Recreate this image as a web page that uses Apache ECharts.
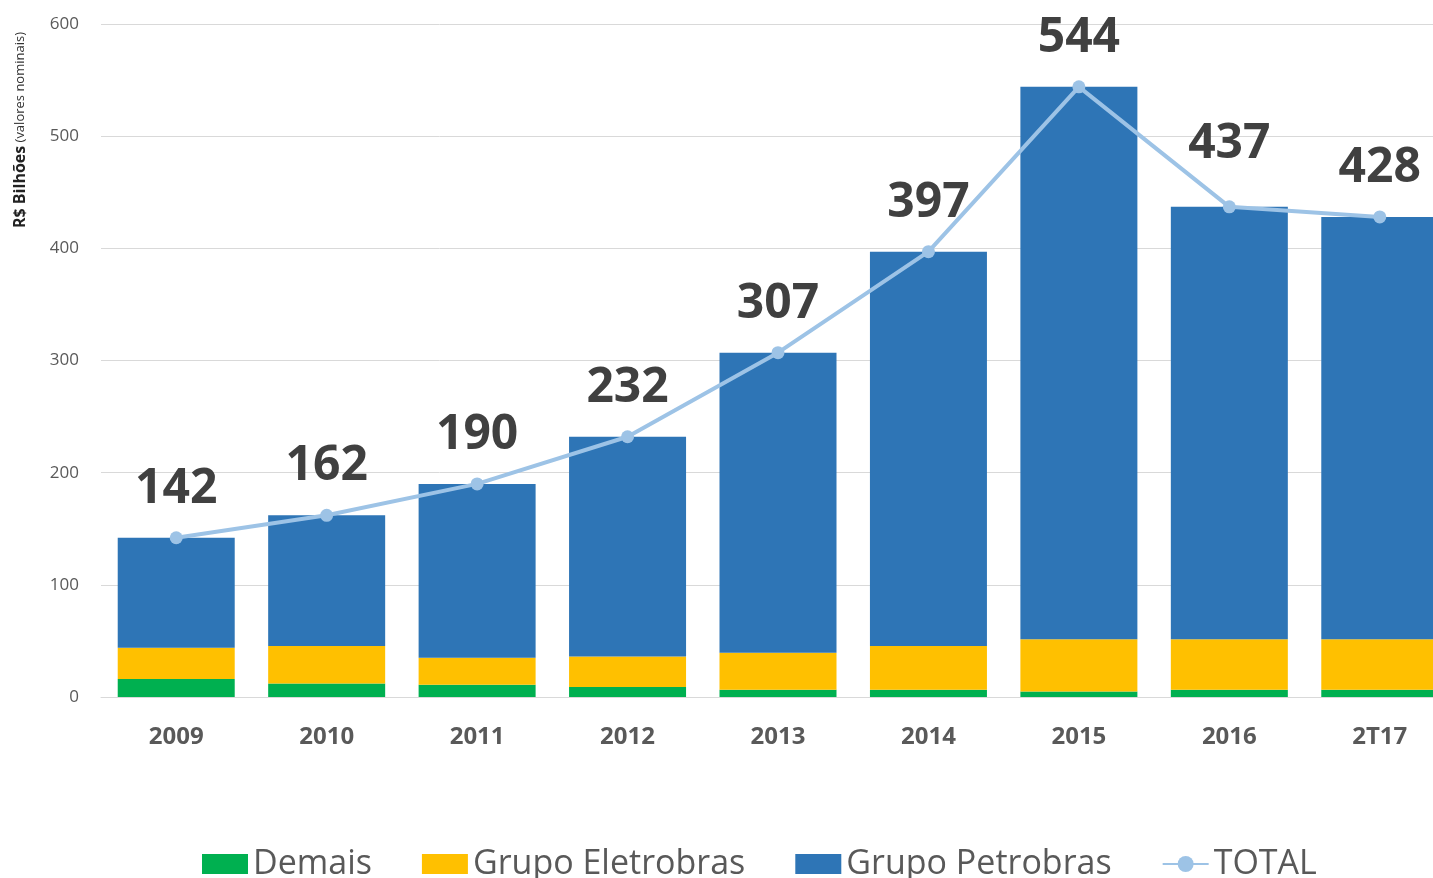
<!DOCTYPE html>
<html>
<head>
<meta charset="utf-8">
<script src="https://cdn.jsdelivr.net/npm/echarts@6/dist/echarts.min.js"></script>
<style>
  html, body { margin: 0; padding: 0; background: #fff; overflow: hidden; }
  /* o gráfico original é cortado à direita: a área passa um pouco da janela */
  #chart { width: 1455px; height: 878px; }
</style>
</head>
<body>
<div id="chart"></div>
<script>
var categories = ['2009', '2010', '2011', '2012', '2013', '2014', '2015', '2016', '2T17']
var demais = [16, 12, 11, 9, 6.5, 6.5, 5, 6.5, 6.5]
var eletrobras = [28, 33.5, 24, 27, 33, 39, 46.5, 45, 45]
var petrobras = [98, 116.5, 155, 196, 267.5, 351.5, 492.5, 385.5, 376.5]
var total = [142, 162, 190, 232, 307, 397, 544, 437, 428]
var yTicks = [0, 100, 200, 300, 400, 500, 600]

var chart = echarts.init(document.getElementById('chart'))

var totalData = total.map(function(v, i) {
  // o rótulo de 2016 fica um pouco mais alto no original
  if (i === 7) {
    return { value: v, label: { distance: 32 } }
  }
  return v
})

chart.setOption({
  animation: false,
  textStyle: { fontFamily: 'Open Sans' },
  grid: {
    left: 101,
    right: 0,
    top: 24,
    bottom: 181
  },
  legend: {
    left: 197,
    top: 842,
    itemGap: 50,
    itemWidth: 46,
    itemHeight: 20,
    textStyle: {
      fontSize: 34,
      color: '#595959',
      fontFamily: 'Open Sans'
    },
    data: [
      { name: 'Demais', icon: 'rect' },
      { name: 'Grupo Eletrobras', icon: 'rect' },
      { name: 'Grupo Petrobras', icon: 'rect' },
      { name: 'TOTAL' }
    ]
  },
  graphic: [
    {
      type: 'text',
      x: 12,
      y: 228,
      rotation: Math.PI / 2,
      style: {
        text: '{b|R$ Bilhões} {s|(valores nominais)}',
        textVerticalAlign: 'top',
        align: 'left',
        rich: {
          b: { fontSize: 16, fontWeight: 'bold', fill: '#222', fontFamily: 'Open Sans' },
          s: { fontSize: 13, fill: '#333', fontFamily: 'Open Sans' }
        }
      }
    }
  ],
  xAxis: {
    type: 'category',
    data: categories,
    axisLine: { lineStyle: { color: '#d9d9d9', width: 1 } },
    axisTick: { show: false },
    axisLabel: {
      fontSize: 24,
      fontWeight: 'bold',
      color: '#595959',
      margin: 28
    }
  },
  yAxis: {
    type: 'value',
    min: yTicks[0],
    max: yTicks[yTicks.length - 1],
    interval: yTicks[1] - yTicks[0],
    axisLine: { show: false },
    axisTick: { show: false },
    axisLabel: {
      fontSize: 17,
      color: '#595959',
      margin: 22
    },
    splitLine: { lineStyle: { color: '#d9d9d9', width: 1 } }
  },
  series: [
    {
      name: 'Demais',
      type: 'bar',
      stack: 'total',
      barWidth: 117,
      data: demais,
      itemStyle: { color: '#00B050' }
    },
    {
      name: 'Grupo Eletrobras',
      type: 'bar',
      stack: 'total',
      barWidth: 117,
      data: eletrobras,
      itemStyle: { color: '#FFC000' }
    },
    {
      name: 'Grupo Petrobras',
      type: 'bar',
      stack: 'total',
      barWidth: 117,
      data: petrobras,
      itemStyle: { color: '#2E75B6' }
    },
    {
      name: 'TOTAL',
      type: 'line',
      data: totalData,
      symbol: 'circle',
      symbolSize: 13,
      lineStyle: { color: '#9DC3E6', width: 4 },
      itemStyle: { color: '#9DC3E6' },
      z: 5,
      label: {
        show: true,
        position: 'top',
        distance: 18,
        fontSize: 48,
        fontWeight: 'bold',
        color: '#404040',
        fontFamily: 'Open Sans'
      }
    }
  ]
})
</script>
</body>
</html>
